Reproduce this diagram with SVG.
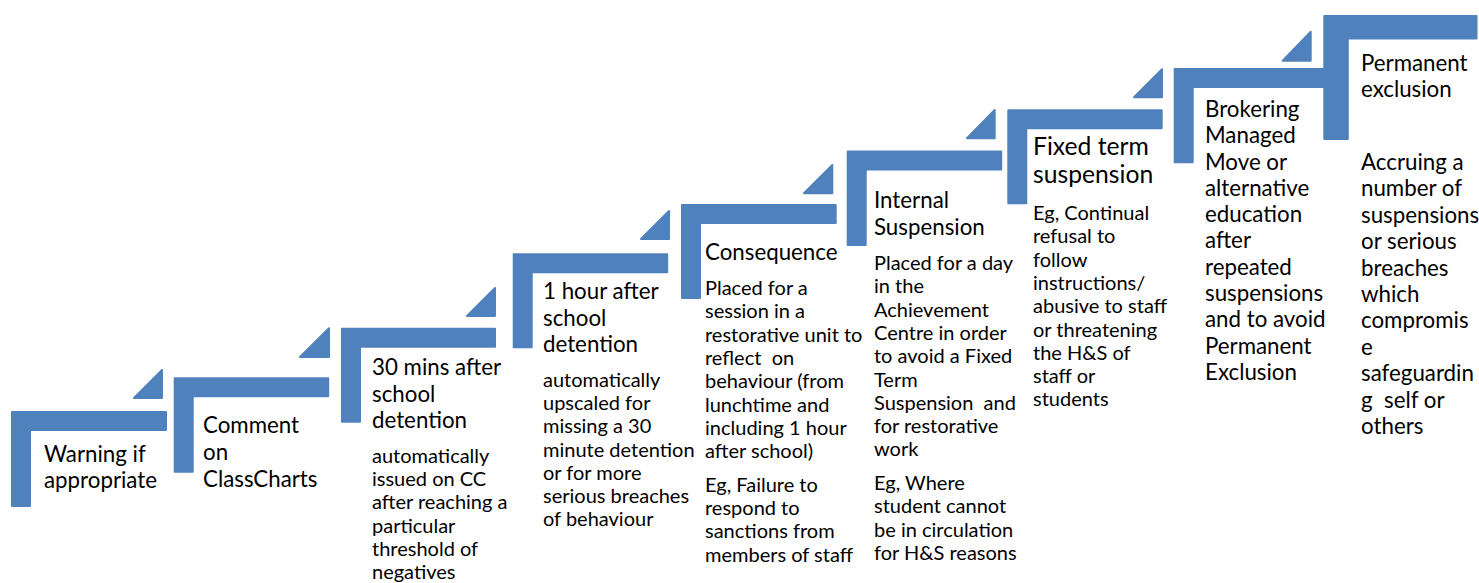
<svg xmlns="http://www.w3.org/2000/svg" width="1479" height="583" viewBox="0 0 1479 583">
<style>
.shape{fill:#4F81BD;stroke:#4F81BD;stroke-width:2;stroke-linejoin:round}
text{font-family:Lato,"Liberation Sans",sans-serif;fill:#000;white-space:pre}
.t{font-size:22.3px}
.t7{font-size:24.7px}
.b{font-size:20px}
</style>
<rect width="1479" height="583" fill="#fff"/>
<g id="connectors"/>
<g id="step1">
<path class="shape" d="M12,412 H166 V430 H30 V506 H12 Z"/>
<path class="shape" d="M134,398 L162,370 V398 Z"/>
<text class="t" x="44"><tspan x="44" y="462">Warning if</tspan><tspan x="44" y="488">appropriate</tspan></text>
</g>
<g id="step2">
<path class="shape" d="M174.7,378.3 H328.2 V396.3 H192.7 V471.8 H174.7 Z"/>
<path class="shape" d="M300,357 L329,328.3 V357 Z"/>
<text class="t"><tspan x="203" y="433">Comment</tspan><tspan x="203" y="460">on</tspan><tspan x="203" y="487">ClassCharts</tspan></text>
</g>
<g id="step3">
<path class="shape" d="M342,328.7 H495 V346.7 H360 V421.7 H342 Z"/>
<path class="shape" d="M467,316 L495,288 V316 Z"/>
<text class="t"><tspan x="372" y="375">30 mins after</tspan><tspan x="372" y="401.5">school</tspan><tspan x="372" y="428">detention</tspan></text>
<text class="b"><tspan x="372" y="463">automatically</tspan><tspan x="372" y="486.2">issued on CC</tspan><tspan x="372" y="509.4">after reaching a</tspan><tspan x="372" y="532.6">particular</tspan><tspan x="372" y="555.8">threshold of</tspan><tspan x="372" y="579">negatives</tspan></text>
</g>
<g id="step4">
<path class="shape" d="M513.7,254.3 H667.2 V272.3 H531.7 V347.3 H513.7 Z"/>
<path class="shape" d="M641,239 L669,211 V239 Z"/>
<text class="t"><tspan x="543" y="299.3">1 hour after</tspan><tspan x="543" y="326">school</tspan><tspan x="543" y="352">detention</tspan></text>
<text class="b"><tspan x="543" y="387">automatically</tspan><tspan x="543" y="410.2">upscaled for</tspan><tspan x="543" y="433.4">missing a 30</tspan><tspan x="543" y="456.6">minute detention</tspan><tspan x="543" y="479.8">or for more</tspan><tspan x="543" y="503">serious breaches</tspan><tspan x="543" y="526.2">of behaviour</tspan></text>
</g>
<g id="step5">
<path class="shape" d="M682,205 H835.7 V223 H700 V298 H682 Z"/>
<path class="shape" d="M804,193.3 L832.3,165 V193.3 Z"/>
<text class="t"><tspan x="705" y="260">Consequence</tspan></text>
<text class="b"><tspan x="705" y="295">Placed for a</tspan><tspan x="705" y="318.3">session in a</tspan><tspan x="705" y="341.6">restorative unit to</tspan><tspan x="705" y="364.9">reflect  on</tspan><tspan x="705" y="388.2">behaviour (from</tspan><tspan x="705" y="411.5">lunchtime and</tspan><tspan x="705" y="434.8">including 1 hour</tspan><tspan x="705" y="458.1">after school)</tspan></text>
<text class="b"><tspan x="705" y="491.7">Eg, Failure to</tspan><tspan x="705" y="515">respond to</tspan><tspan x="705" y="538.3">sanctions from</tspan><tspan x="705" y="561.6">members of staff</tspan></text>
</g>
<g id="step6">
<path class="shape" d="M847.7,151.5 H1001.2 V169.5 H865.7 V245 H847.7 Z"/>
<path class="shape" d="M967,138.3 L994.7,110 V138.3 Z"/>
<text class="t"><tspan x="874" y="208.3">Internal</tspan><tspan x="874" y="235">Suspension</tspan></text>
<text class="b"><tspan x="874" y="270">Placed for a day</tspan><tspan x="874" y="293.3">in the</tspan><tspan x="874" y="316.6">Achievement</tspan><tspan x="874" y="339.9">Centre in order</tspan><tspan x="874" y="363.2">to avoid a Fixed</tspan><tspan x="874" y="386.5">Term</tspan><tspan x="874" y="409.8">Suspension  and</tspan><tspan x="874" y="433.1">for restorative</tspan><tspan x="874" y="456.4">work</tspan></text>
<text class="b"><tspan x="874" y="490">Eg, Where</tspan><tspan x="874" y="513.3">student cannot</tspan><tspan x="874" y="536.6">be in circulation</tspan><tspan x="874" y="559.9">for H&amp;S reasons</tspan></text>
</g>
<g id="step7">
<path class="shape" d="M1008.3,110.3 H1161.7 V128.3 H1026.3 V203.3 H1008.3 Z"/>
<path class="shape" d="M1134,97.3 L1162,69.3 V97.3 Z"/>
<text class="t7"><tspan x="1033" y="155">Fixed term</tspan><tspan x="1033" y="183.3">suspension</tspan></text>
<text class="b"><tspan x="1033" y="220">Eg, Continual</tspan><tspan x="1033" y="243.3">refusal to</tspan><tspan x="1033" y="266.6">follow</tspan><tspan x="1033" y="289.9">instructions/</tspan><tspan x="1033" y="313.2">abusive to staff</tspan><tspan x="1033" y="336.5">or threatening</tspan><tspan x="1033" y="359.8">the H&amp;S of</tspan><tspan x="1033" y="383.1">staff or</tspan><tspan x="1033" y="406.4">students</tspan></text>
</g>
<g id="step8">
<path class="shape" d="M1174.7,69 H1326 V87 H1192.7 V162.3 H1174.7 Z"/>
<path class="shape" d="M1282.7,60.7 L1310.7,31.7 V60.7 Z"/>
<text class="t"><tspan x="1205" y="116.7">Brokering</tspan><tspan x="1205" y="143.2">Managed</tspan><tspan x="1205" y="169.5">Move or</tspan><tspan x="1205" y="195.8">alternative</tspan><tspan x="1205" y="222.1">education</tspan><tspan x="1205" y="248.4">after</tspan><tspan x="1205" y="274.7">repeated</tspan><tspan x="1205" y="301">suspensions</tspan><tspan x="1205" y="327.3">and to avoid</tspan><tspan x="1205" y="353.6">Permanent</tspan><tspan x="1205" y="379.9">Exclusion</tspan></text>
</g>
<g id="step9">
<path class="shape" d="M1324.3,16 H1476.5 V38.5 H1347.8 V139 H1324.3 Z"/>
<text class="t"><tspan x="1361" y="71">Permanent</tspan><tspan x="1361" y="97.3">exclusion</tspan></text>
<text class="t"><tspan x="1361" y="170">Accruing a</tspan><tspan x="1361" y="196.4">number of</tspan><tspan x="1361" y="222.8">suspensions</tspan><tspan x="1361" y="249.2">or serious</tspan><tspan x="1361" y="275.6">breaches</tspan><tspan x="1361" y="302">which</tspan><tspan x="1361" y="328.4">compromis</tspan><tspan x="1361" y="354.8">e</tspan><tspan x="1361" y="381.2">safeguardin</tspan><tspan x="1361" y="407.6">g  self or</tspan><tspan x="1361" y="434">others</tspan></text>
</g>
</svg>
